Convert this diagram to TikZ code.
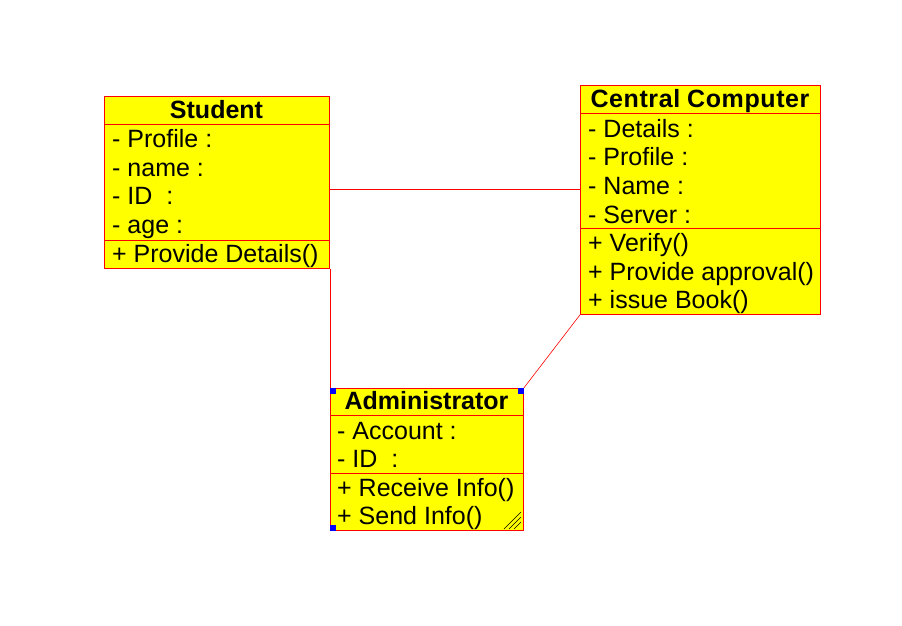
\documentclass[tikz,border=0pt]{standalone}
\usepackage{fontspec}
\setmainfont{Liberation Sans}
\definecolor{umlyellow}{RGB}{255,255,0}
\definecolor{umlred}{RGB}{255,0,0}
\definecolor{umlblue}{RGB}{0,0,255}
\begin{document}
\begin{tikzpicture}[x=1pt,y=-1pt,
  cls/.style={draw=umlred,fill=umlyellow,line width=0.8pt,inner sep=0pt,anchor=north west},
  sep/.style={draw=umlred,line width=0.6pt},
  conn/.style={draw=umlred,line width=0.6pt},
  title/.style={font=\fontsize{25}{25}\selectfont\bfseries,inner sep=0pt,anchor=base},
  item/.style={font=\fontsize{25}{25}\selectfont,inner sep=0pt,anchor=base west},
  handle/.style={fill=umlblue,draw=none,minimum size=6pt,inner sep=0pt}]
\useasboundingbox (0,0) rectangle (902,625);
\fill[white] (0,0) rectangle (902,625);

% Student
\node[cls,minimum width=225pt,minimum height=172pt] (student) at (104,96) {};
\draw[sep] (104,124) -- (329,124);
\draw[sep] (104,240) -- (329,240);
\node[title] (st) at (216.5,118) {Student};
\node[item] (s1) at (112,147) {- Profile :};
\node[item] (s2) at (112,176) {- name :};
\node[item] (s3) at (112,204.5) {- ID~ :};
\node[item] (s4) at (112,233.5) {- age :};
\node[item] (s5) at (112,262) {+ Provide Details()};

% Central Computer
\node[cls,minimum width=240pt,minimum height=229pt] (cc) at (580,85) {};
\draw[sep] (580,113) -- (820,113);
\draw[sep] (580,228) -- (820,228);
\node[title] (cct) at (700,107) {C\kern0.6pt e\kern0.6pt n\kern0.6pt t\kern0.6pt r\kern0.6pt a\kern0.6pt l C\kern0.6pt o\kern0.6pt m\kern0.6pt p\kern0.6pt u\kern0.6pt t\kern0.6pt e\kern0.6pt r};
\node[item] (c1) at (588,137) {- Details :};
\node[item] (c2) at (588,165.5) {- Profile :};
\node[item] (c3) at (588,194) {- Name :};
\node[item] (c4) at (588,223) {- Server :};
\node[item] (c5) at (588,251) {+ Verify()};
\node[item] (c6) at (588,280) {+ Provide approval()};
\node[item] (c7) at (588,308) {+ issue Book()};

% Administrator
\node[cls,minimum width=193pt,minimum height=142pt] (adm) at (330,388) {};
\draw[sep] (330,415) -- (523,415);
\draw[sep] (330,473) -- (523,473);
\node[title] (at) at (426.5,409) {Administrator};
\node[item] (a1) at (337,439) {- Account :};
\node[item] (a2) at (337,467.5) {- ID~ :};
\node[item] (a3) at (337,496.5) {+ Receive Info()};
\node[item] (a4) at (337,524.5) {+ Send Info()};

% hatch
\draw[black,line width=0.5pt] (504,529) -- (521,512) (509,529) -- (521,517) (514,529) -- (521,522);

% connectors
\draw[conn] (student.east |- 0,189) -- (cc.west |- 0,189);
\draw[conn] (student.south east) -- (student.south east |- adm.north);
\draw[conn] (cc.south west) -- (adm.north east);

% handles
\node[handle] (h1) at (332.5,390.5) {};
\node[handle] (h2) at (520.5,390.5) {};
\node[handle] (h3) at (332.5,527.5) {};
\end{tikzpicture}
\end{document}
